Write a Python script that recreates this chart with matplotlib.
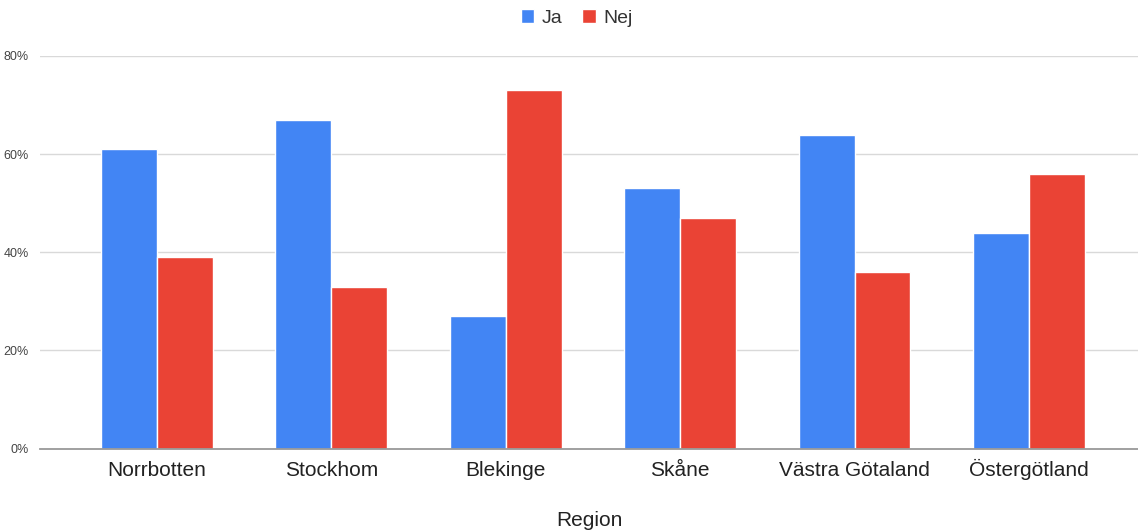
import numpy as np
import matplotlib.pyplot as plt
from matplotlib.ticker import FuncFormatter

plt.rcParams['font.family'] = ['Liberation Sans', 'DejaVu Sans']

# Data
regions = ["Norrbotten", "Stockhom", "Blekinge", "Skåne", "Västra Götaland", "Östergötland"]
ja = [61, 67, 27, 53, 64, 44]
nej = [39, 33, 73, 47, 36, 56]

blue = "#4285f4"
red = "#ea4335"

fig = plt.figure(figsize=(11.38, 5.31), dpi=100)
ax = fig.add_axes([40 / 1138, 82.5 / 531, 1098 / 1138, (448.5 - 56) / 531])

x = np.arange(len(regions))
w = 0.32
ax.bar(x - w / 2, ja, w, color=blue, edgecolor="white", linewidth=1, label="Ja", zorder=3)
ax.bar(x + w / 2, nej, w, color=red, edgecolor="white", linewidth=1, label="Nej", zorder=3)

ax.set_xlim(-0.67, 5.625)
ax.set_ylim(0, 80)
ax.set_yticks([0, 20, 40, 60, 80])
ax.yaxis.set_major_formatter(FuncFormatter(lambda v, p: f"{v:.0f}%"))
ax.grid(axis="y", color="#d9d9d9", linewidth=1, zorder=0)
for s in ["top", "right", "left"]:
    ax.spines[s].set_visible(False)
ax.spines["bottom"].set_color("#999999")
ax.spines["bottom"].set_linewidth(1.3)
ax.spines["bottom"].set_zorder(4)

# category labels aligned on baseline so Ö doesn't push down
ax.set_xticks(x)
ax.set_xticklabels(regions, fontsize=15, color="#222222")
ax.tick_params(axis="x", length=0, pad=20)
for lbl in ax.get_xticklabels():
    lbl.set_verticalalignment("baseline")
ax.tick_params(axis="y", length=0, labelsize=9, labelcolor="#444444", pad=8)

fig.text((40 + 1138) / 2 / 1138, 1 - 520 / 531, "Region", fontsize=15,
         color="#222222", ha="center", va="center")

ax.legend(loc="center", bbox_to_anchor=(0.489, 1 + (56 - 18) / 392.5), ncol=2, frameon=False,
          fontsize=14, handlelength=0.7, handleheight=0.7, handletextpad=0.4,
          columnspacing=1.0, labelcolor="#333333")

fig.savefig("out.png", dpi=100)
